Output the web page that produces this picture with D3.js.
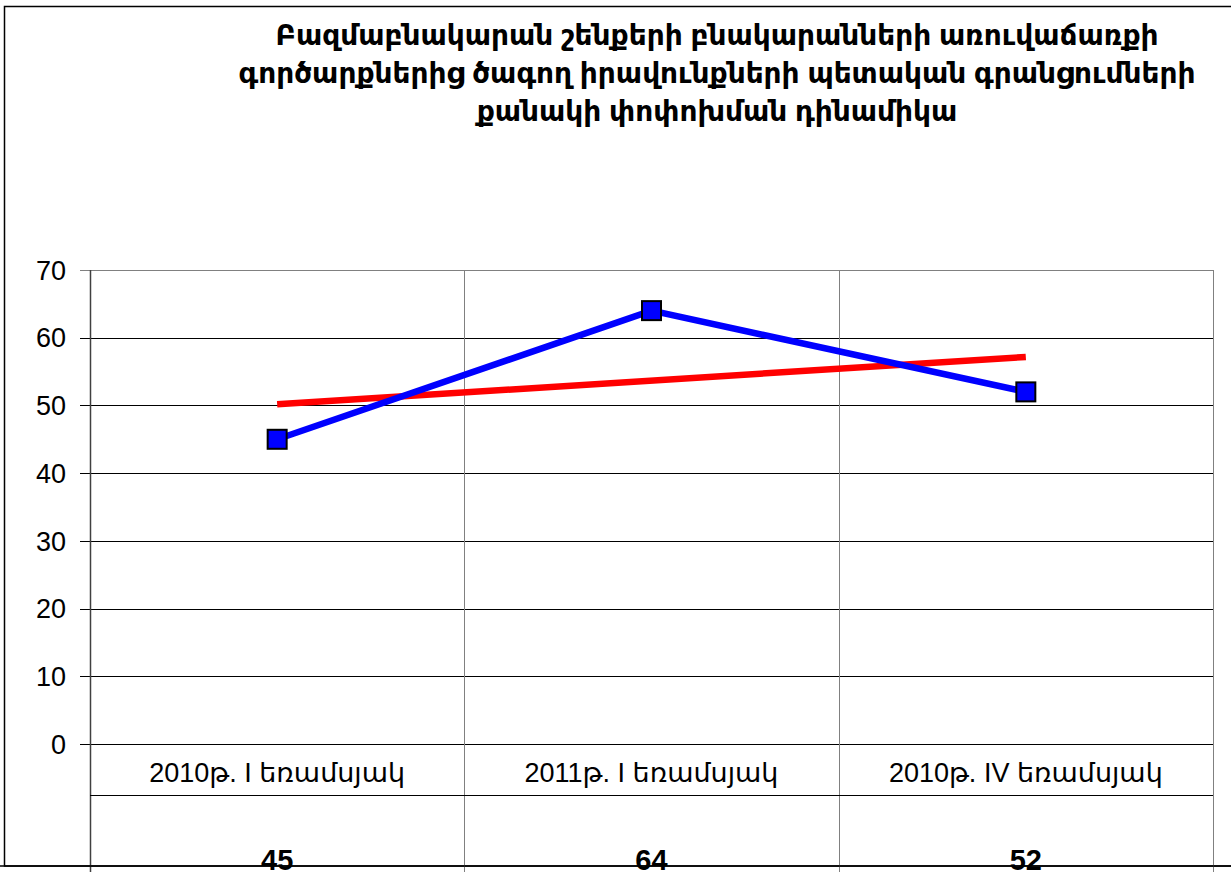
<!DOCTYPE html>
<html>
<head>
<meta charset="utf-8">
<script src="https://cdn.jsdelivr.net/npm/d3@7"></script>
<style>
  body { margin: 0; background: #fff; overflow: hidden; }
  svg { display: block; }
  text { font-family: "Liberation Sans", Arial, "DejaVu Sans", sans-serif; fill: #000; }
</style>
</head>
<body>
<div id="chart"></div>
<script>
// chart data
var titleLines = [
  "Բազմաբնակարան շենքերի բնակարանների առուվաճառքի",
  "գործարքներից ծագող իրավունքների պետական գրանցումների",
  "քանակի փոփոխման դինամիկա"
];
var categories = ["2010թ. I եռամսյակ", "2011թ. I եռամսյակ", "2010թ. IV եռամսյակ"];
var values = [45, 64, 52];
var yTicks = [0, 10, 20, 30, 40, 50, 60, 70];

var W = 1231, H = 872;
var plot = { left: 90, right: 1213, top: 270, bottom: 744 };

var svg = d3.select("#chart").append("svg")
  .attr("width", W)
  .attr("height", H);

var x = d3.scaleBand()
  .domain(categories)
  .range([plot.left, plot.right]);

var y = d3.scaleLinear()
  .domain([0, 70])
  .range([plot.bottom, plot.top]);

// outer frame
svg.append("rect")
  .attr("x", 4.5).attr("y", 6.5)
  .attr("width", W + 10).attr("height", 866 - 6.5)
  .attr("fill", "none")
  .attr("stroke", "#000")
  .attr("stroke-width", 1.5);

// title
svg.append("g").selectAll("text")
  .data(titleLines)
  .enter()
  .append("text")
  .attr("x", 717)
  .attr("y", function(d, i) { return 45 + i * 38; })
  .attr("text-anchor", "middle")
  .style("font-size", "28px")
  .style("font-weight", "bold")
  .text(function(d) { return d; });

// horizontal gridlines
svg.append("g").selectAll("line")
  .data(yTicks)
  .enter()
  .append("line")
  .attr("x1", plot.left - 10)
  .attr("x2", plot.right)
  .attr("y1", function(d) { return Math.round(y(d)) + 0.5; })
  .attr("y2", function(d) { return Math.round(y(d)) + 0.5; })
  .attr("stroke", function(d) { return d == 70 ? "#808080" : "#000"; })
  .attr("stroke-width", 1);

// y labels
svg.append("g").selectAll("text")
  .data(yTicks)
  .enter()
  .append("text")
  .attr("x", 66)
  .attr("y", function(d) { return y(d); })
  .attr("dy", "0.36em")
  .attr("text-anchor", "end")
  .style("font-size", "27px")
  .text(function(d) { return d; });

// vertical gridlines / table column lines
var colEdges = categories.map(function(c) { return x(c); }).concat([plot.right]);
svg.append("g").selectAll("line")
  .data(colEdges)
  .enter()
  .append("line")
  .attr("x1", function(d) { return Math.round(d) + 0.5; })
  .attr("x2", function(d) { return Math.round(d) + 0.5; })
  .attr("y1", plot.top)
  .attr("y2", H)
  .attr("stroke", function(d, i) { return i == 0 ? "#404040" : "#808080"; })
  .attr("stroke-width", function(d, i) { return i == 0 ? 1.5 : 1; });

// table row line
svg.append("line")
  .attr("x1", plot.left).attr("x2", plot.right)
  .attr("y1", 795.5).attr("y2", 795.5)
  .attr("stroke", "#000");

// category labels
svg.append("g").selectAll("text")
  .data(categories)
  .enter()
  .append("text")
  .attr("x", function(d) { return x(d) + x.bandwidth() / 2; })
  .attr("y", 772)
  .attr("dy", "0.36em")
  .attr("text-anchor", "middle")
  .style("font-size", "27px")
  .text(function(d) { return d; });

// value labels in the table (cut by the frame edge, as in the original)
svg.append("g").selectAll("text")
  .data(values)
  .enter()
  .append("text")
  .attr("x", function(d, i) { return x(categories[i]) + x.bandwidth() / 2; })
  .attr("y", 870)
  .attr("text-anchor", "middle")
  .style("font-size", "29px")
  .style("font-weight", "bold")
  .text(function(d) { return d; });

// bottom line of the frame over the values
svg.append("line")
  .attr("x1", 0).attr("x2", W)
  .attr("y1", 866).attr("y2", 866)
  .attr("stroke", "#000")
  .attr("stroke-width", 1.5);

// linear trend line (least squares on 1..n)
var n = values.length;
var xs = values.map(function(d, i) { return i + 1; });
var mx = d3.mean(xs), my = d3.mean(values);
var slope = d3.sum(xs, function(v, i) { return (v - mx) * (values[i] - my); }) /
            d3.sum(xs, function(v) { return (v - mx) * (v - mx); });
var trend = xs.map(function(v) { return my + slope * (v - mx); });

var cx = function(i) { return x(categories[i]) + x.bandwidth() / 2; };

svg.append("line")
  .attr("x1", cx(0)).attr("y1", y(trend[0]))
  .attr("x2", cx(n - 1)).attr("y2", y(trend[n - 1]))
  .attr("stroke", "#FF0000")
  .attr("stroke-width", 6.5);

// data line
var line = d3.line()
  .x(function(d, i) { return cx(i); })
  .y(function(d) { return y(d); });

svg.append("path")
  .datum(values)
  .attr("d", line)
  .attr("fill", "none")
  .attr("stroke", "#0000FF")
  .attr("stroke-width", 6.5);

// square markers
svg.append("g").selectAll("rect")
  .data(values)
  .enter()
  .append("rect")
  .attr("x", function(d, i) { return cx(i) - 9.5; })
  .attr("y", function(d) { return y(d) - 9.5; })
  .attr("width", 19)
  .attr("height", 19)
  .attr("fill", "#0000FF")
  .attr("stroke", "#000")
  .attr("stroke-width", 2);
</script>
</body>
</html>
